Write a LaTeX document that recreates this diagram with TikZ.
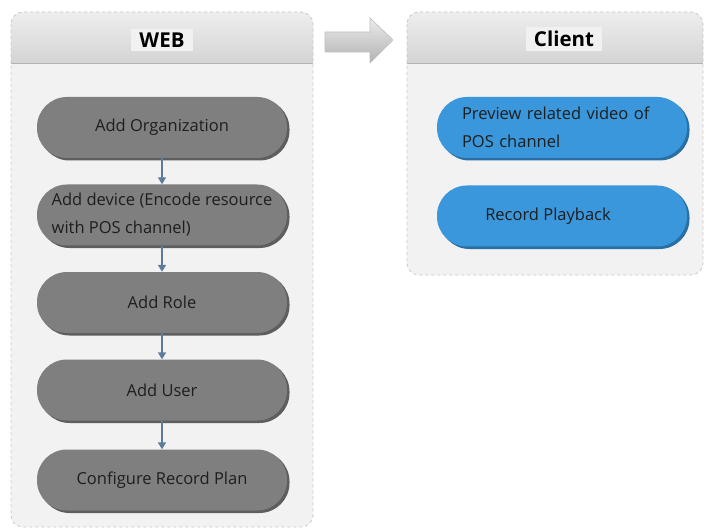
\documentclass[tikz,border=0pt]{standalone}
\usepackage{fontspec}
\setmainfont{Open Sans}
\usetikzlibrary{arrows.meta}
\definecolor{pillgray}{HTML}{7F7F7F}
\definecolor{pillshadow}{HTML}{5E5E5E}
\definecolor{pillblue}{HTML}{3A97DB}
\definecolor{blueshadow}{HTML}{2A6FA3}
\definecolor{boxfill}{HTML}{F2F2F2}
\definecolor{boxedge}{HTML}{C8C8C8}
\definecolor{headtop}{HTML}{EEEEEE}
\definecolor{headbot}{HTML}{D4D4D4}
\definecolor{arrowblue}{HTML}{5C7C9C}
\definecolor{txt}{HTML}{1E1E1E}
\tikzset{
  container/.style={rounded corners=12pt, fill=boxfill},
  contedge/.style={rounded corners=12pt, draw=boxedge, dashed, line width=0.8pt},
  pill/.style={rounded corners=30pt, minimum width=250pt, minimum height=61pt,
    inner sep=0pt, font=\fontsize{16.5}{28}\selectfont, text=txt},
  graypill/.style={pill, fill=pillgray},
  bluepill/.style={pill, fill=pillblue},
  headtext/.style={font=\bfseries\fontsize{20.5}{22}\selectfont, fill=headtop!80!white, inner xsep=8pt, inner ysep=4pt, text=black},
  flow/.style={draw=arrowblue, line width=1.6pt, -{Triangle[length=7pt,width=8pt]}},
}
\begin{document}
\begin{tikzpicture}[x=1pt,y=-1pt]
\useasboundingbox (0,0) rectangle (706,529);
\fill[white] (0,0) rectangle (706,529);
% WEB container
\fill[container] (11,12) rectangle (313,527);
\begin{scope}
  \clip[rounded corners=12pt] (11,12) rectangle (313,527);
  \shade[top color=headtop, bottom color=headbot] (11,12) rectangle (313,63);
  \draw[boxedge!90!black, line width=0.6pt] (11,63) -- (313,63);
\end{scope}
\draw[contedge] (11,12) rectangle (313,527);
\node[headtext] (webh) at (162,40) {WEB};
% Client container
\fill[container] (407,12) rectangle (703,275);
\begin{scope}
  \clip[rounded corners=12pt] (407,12) rectangle (703,275);
  \shade[top color=headtop, bottom color=headbot] (407,12) rectangle (703,63);
  \draw[boxedge!90!black, line width=0.6pt] (407,63) -- (703,63);
\end{scope}
\draw[contedge] (407,12) rectangle (703,275);
\node[headtext] (clih) at (564,39) {Client};
% big arrow
\shade[top color=white!92!black, bottom color=white!70!black, draw=white!75!black, line width=0.6pt]
  (325,32) -- (370,32) -- (370,18) -- (393,40) -- (370,63) -- (370,52) -- (325,52) -- cycle;
% shadows
\foreach \y in {127.5,215,302.5,390,480}{
  \fill[pillshadow, rounded corners=30pt] (39.5,\y-28.5) rectangle (289.5,\y+33);
}
\foreach \y in {127.5,216}{
  \fill[blueshadow, rounded corners=30pt] (439.5,\y-28.5) rectangle (689.5,\y+33);
}
% pills
\node[graypill] (org) at (162,127.5) {Add Organization};
\node[graypill, align=left] (dev) at (162,215) {Add device (Encode resource\\with POS channel)};
\node[graypill] (role) at (162,302.5) {Add Role};
\node[graypill] (user) at (162,390) {Add User};
\node[graypill] (plan) at (162,480) {Configure Record Plan};
\node[bluepill, align=left, text width=200pt] (prev) at (562,127.5) {Preview related video of\\POS channel};
\node[bluepill] (play) at (562,216) {\hspace*{-28pt}Record Playback};
% flow arrows
\draw[flow] (org.south) -- (dev.north);
\draw[flow] (dev.south) -- (role.north);
\draw[flow] (role.south) -- (user.north);
\draw[flow] (user.south) -- (plan.north);
\end{tikzpicture}
\end{document}
